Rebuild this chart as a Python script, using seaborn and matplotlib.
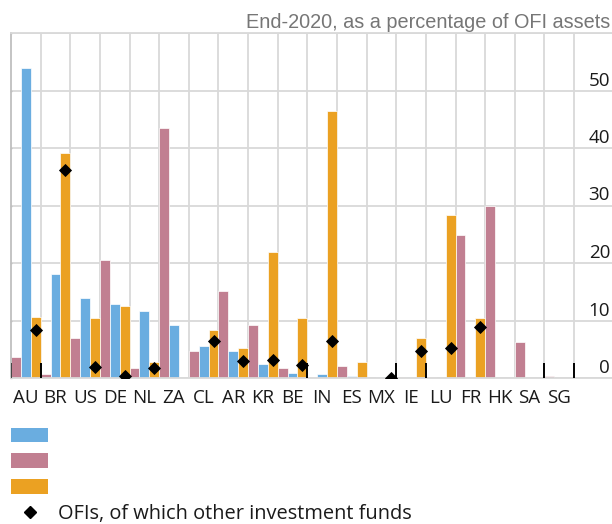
import numpy as np
import pandas as pd
import matplotlib
matplotlib.use("Agg")
import matplotlib.pyplot as plt
import matplotlib.transforms as mtransforms
from matplotlib.patches import Patch
from matplotlib.lines import Line2D
import seaborn as sns

# ---------------- data ----------------
countries = ["AU", "BR", "US", "DE", "NL", "ZA", "CL", "AR", "KR", "BE",
             "IN", "ES", "MX", "IE", "LU", "FR", "HK", "SA", "SG"]
series_a = [3.7, 0.7, 6.9, 20.5, 1.7, 43.5, 4.7, 15.1, 9.2, 1.7,
            0.2, 2.1, 0.05, 0.2, 0.2, 24.8, 29.9, 6.3, 0.3]          # mauve
series_b = [54.0, 18.1, 13.9, 12.8, 11.6, 9.2, 5.6, 4.7, 2.4, 0.9,
            0.7, 0.4, 0.2, 0.1, 0.0, 0.0, 0.0, 0.0, 0.0]              # blue
series_c = [10.6, 39.2, 10.4, 12.5, 2.8, 0.0, 8.3, 5.2, 22.0, 10.4,
            46.5, 2.8, 0.0, 6.9, 28.3, 10.4, 0.0, 0.0, 0.0]           # orange
other_funds = [8.3, 36.1, 2.0, 0.3, 1.7, np.nan, 6.5, 2.9, 3.2, 2.3,
               6.5, np.nan, 0.05, 4.7, 5.3, 8.8, np.nan, np.nan, np.nan]
series_names = ["series_a", "series_b", "series_c"]
legend_order = ["series_b", "series_a", "series_c"]
series_labels = {"series_a": "", "series_b": "", "series_c": ""}
marker_label = "OFIs, of which other investment funds"
edge_marks_right = ["AU", "BE", "MX", "IE", "SA", "SG"]
edge_marks_left = ["AU"]
edge_mark_height = 2.6
y_ticks = [0, 10, 20, 30, 40, 50]
title = "End-2020, as a percentage of OFI assets"

palette = {"series_a": "#c17f91", "series_b": "#6aade0", "series_c": "#eba122"}

df = pd.DataFrame({
    "country": countries * 3,
    "value": series_a + series_b + series_c,
    "series": sum([[n] * len(countries) for n in series_names], []),
})

# ---------------- style ----------------
sns.set_theme(style="white")
plt.rcParams["font.family"] = ["Open Sans", "DejaVu Sans"]

W, H = 612, 524
fig = plt.figure(figsize=(W / 100, H / 100), dpi=100)
ax = fig.add_axes([11 / W, 1 - 378 / H, 601 / W, 345 / H])

sns.barplot(data=df, x="country", y="value", hue="series", order=countries,
            hue_order=series_names, palette=palette, width=1.0, dodge=True,
            saturation=1, errorbar=None, legend=False, ax=ax,
            edgecolor="white", linewidth=0.5, zorder=2)

n = len(countries)
xs = np.arange(n)
ax.plot(xs + 1 / 3, other_funds, ls="none", marker="D", color="black",
        markersize=5.8, markeredgewidth=0.6, zorder=4)

# small black vertical marks at slot edges
for c in edge_marks_right:
    ax.vlines(countries.index(c) + 0.5, 0, edge_mark_height, color="black",
              lw=1.4, zorder=3)
for c in edge_marks_left:
    ax.vlines(countries.index(c) - 0.5, 0, edge_mark_height, color="#444444",
              lw=1.4, zorder=3)

ax.set_xlim(-0.5, n - 0.5 + 1.28)
ax.set_ylim(0, 60)
ax.set_xlabel("")
ax.set_ylabel("")

grid_c = "#d9d9d9"
ax.set_yticks(range(0, 61, 10))
ax.set_yticklabels([])
ax.yaxis.grid(True, color=grid_c, lw=1.3)
ax.set_xticks(xs)
ax.set_xticklabels(countries, fontsize=13.5, color="#1a1a1a")
ax.set_xticks(np.arange(0.5, n, 1), minor=True)
ax.xaxis.grid(True, which="minor", color=grid_c, lw=1.3)
ax.set_axisbelow(True)
ax.tick_params(axis="x", which="major", length=1.5, width=1, color="#808080",
               pad=6.5, direction="out")
ax.tick_params(axis="x", which="minor", length=0)
ax.tick_params(axis="y", length=2, width=1, color="#bfbfbf", direction="inout",
               left=True, right=False)

for s in ["top", "bottom"]:
    ax.spines[s].set_color(grid_c)
    ax.spines[s].set_linewidth(1.3)
ax.spines["left"].set_color("#bfbfbf")
ax.spines["left"].set_linewidth(1.3)
ax.spines["right"].set_visible(False)

# y labels inside on the right, sitting above gridlines
ytrans = mtransforms.offset_copy(ax.get_yaxis_transform(), fig=fig, y=5,
                                 units="dots")
for v in y_ticks:
    ax.text(0.9967, v, str(v), transform=ytrans, ha="right", va="baseline",
            fontsize=13.5, color="#1a1a1a")

fig.text(610 / W, 1 - 28.3 / H, title, ha="right", va="baseline",
         fontsize=14.3, color="#767676", family=["Liberation Sans", "DejaVu Sans"])

handles = [Patch(facecolor=palette[s], edgecolor="none") for s in legend_order]
handles.append(Line2D([], [], ls="none", marker="D", color="black",
                      markersize=6.5))
labels = [series_labels[s] for s in legend_order] + [marker_label]
fig.legend(handles, labels, loc="upper left", bbox_to_anchor=(11 / W, 1 - 427 / H),
           frameon=False, borderpad=0, borderaxespad=0, handlelength=1.85,
           handleheight=0.75, handletextpad=0.5, labelspacing=0.28,
           fontsize=14.4, labelcolor="#1a1a1a")

fig.savefig("out.png", dpi=100)
